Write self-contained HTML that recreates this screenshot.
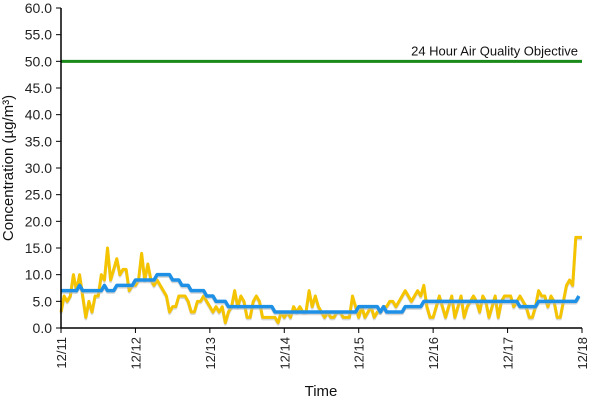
<!DOCTYPE html>
<html><head><meta charset="utf-8"><style>
body{margin:0;background:#fff;}
svg{font-family:"Liberation Sans",Arial,sans-serif;}
</style></head><body>
<svg width="600" height="400" id="chart"></svg>
<script>
const dayLabels=["12/11","12/12","12/13","12/14","12/15","12/16","12/17","12/18"];
const yTicks=[0,5,10,15,20,25,30,35,40,45,50,55,60];
const objective=50;
const hourly=[3,6,5,6,10,7,10,6,2,5,3,6,6,10,9,15,9,11,13,10,11,11,7,8,
8,9,14,9,12,9,8,9,8,7,6,3,4,4,6,6,6,5,3,3,5,5,6,5,
4,3,4,3,4,1,3,4,7,4,6,5,2,2,5,6,5,2,2,2,2,2,1,3,
2,3,2,4,3,4,3,3,7,4,6,4,3,2,3,2,2,3,3,2,2,2,6,4,
2,4,2,3,4,2,3,3,4,4,5,5,4,5,6,7,6,5,6,7,6,8,4,2,
2,4,6,4,2,4,6,2,4,6,2,4,5,6,5,3,6,5,2,4,6,2,5,6,
6,6,4,5,6,5,4,2,2,4,7,6,6,4,6,5,2,2,5,8,9,8,17,17,17];
const rolling=[7,7,7,7,7,7,8,7,7,7,7,7,7,7,8,7,7,7,8,8,8,8,8,8,
9,9,9,9,9,9,9,10,10,10,10,10,9,9,9,8,8,8,7,7,7,7,7,6,
6,6,5,5,5,5,4,4,4,4,4,4,4,4,4,4,4,4,4,4,4,3,3,3,
3,3,3,3,3,3,3,3,3,3,3,3,3,3,3,3,3,3,3,3,3,3,3,3,
4,4,4,4,4,4,4,3,4,3,3,3,3,3,3,4,4,4,4,4,4,5,5,5,
5,5,5,5,5,5,5,5,5,5,5,5,5,5,5,5,5,5,5,5,5,5,5,5,
5,5,5,5,4,4,4,4,4,4,5,5,5,5,5,5,5,5,5,5,5,5,5,6];
const svg=document.getElementById('chart');const NS='http://www.w3.org/2000/svg';
const x0=61,x1=582,yb=328,yt=8;
const nH=168;
const xs=i=>x0+(x1-x0)*i/nH, ys=v=>yb-(yb-yt)*v/60;
function mk(t,a,p){const e=document.createElementNS(NS,t);for(const k in a)e.setAttribute(k,a[k]);(p||svg).appendChild(e);return e;}
yTicks.forEach(v=>{const y=ys(v);
const l=mk('line',{x1:x0-5,x2:x0,y1:y,y2:y,stroke:'#000'});

const t=mk('text',{x:x0-9,y:y+5,'text-anchor':'end','font-size':14,fill:'#222'});t.textContent=v.toFixed(1);
});
dayLabels.forEach((d,i)=>{const x=xs(i*24);
const l=mk('line',{x1:x,x2:x,y1:yb,y2:yb+5,stroke:'#000'});

const t=mk('text',{x:0,y:0,'text-anchor':'end','font-size':13,fill:'#222',transform:`translate(${x+5},${yb+9}) rotate(-90)`});t.textContent=d;
});
function line(arr,col,w,name){const pts=arr.map((v,i)=>xs(Math.min(i,nH))+','+ys(v)).join(' ');
mk('polyline',{points:pts,fill:'none',stroke:'#bbb',"stroke-width":w,transform:'translate(0,1.5)','stroke-linejoin':'round',opacity:0.6});
const p=mk('polyline',{points:pts,fill:'none',stroke:col,'stroke-width':w,'stroke-linejoin':'round'});
}
line(hourly.slice(0,169),'#f5c400',3,'hourly-series');
line(rolling,'#1e90e6',3.5,'rolling-24h-series');
const g=mk('line',{x1:x0,x2:x1,y1:ys(objective),y2:ys(objective),stroke:'#1a8a1a','stroke-width':3});

const gt=mk('text',{x:578,y:ys(objective)-6,'text-anchor':'end','font-size':13,fill:'#111'});gt.textContent='24 Hour Air Quality Objective';

const ax=mk('path',{d:`M${x0},${yt} V${yb} H${x1}`,fill:'none',stroke:'#000','stroke-width':1.5});

const yt2=mk('text',{x:0,y:0,'text-anchor':'middle','font-size':15,fill:'#111',transform:'translate(13,168) rotate(-90)'});yt2.textContent='Concentration (µg/m³)';

const xt=mk('text',{x:321,y:396,'text-anchor':'middle','font-size':15,fill:'#111'});xt.textContent='Time';

</script>
</body></html>
